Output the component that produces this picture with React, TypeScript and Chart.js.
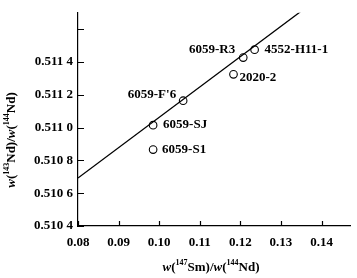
import React, { useEffect, useRef } from 'react';
import { Chart, registerables } from 'chart.js';

Chart.register(...registerables);

// ---- data ----
const sampleNames = ['4552-H11-1', '6059-R3', '2020-2', "6059-F'6", '6059-SJ', '6059-S1'];
const smNdRatio = [0.1235, 0.1207, 0.1183, 0.1059, 0.0985, 0.0985];
const ndNdRatio = [0.511475, 0.511427, 0.511325, 0.511164, 0.511015, 0.510866];
const isochronX = [0.08, 0.1348];
const isochronY = [0.510693, 0.511707];
const xTickValues = [0.08, 0.09, 0.1, 0.11, 0.12, 0.13, 0.14];
const xTickLabels = ['0.08', '0.09', '0.10', '0.11', '0.12', '0.13', '0.14'];
const yTickValues = [0.5104, 0.5106, 0.5108, 0.511, 0.5112, 0.5114, 0.5116];
const yTickLabels = ['0.510 4', '0.510 6', '0.510 8', '0.511 0', '0.511 2', '0.511 4', ''];

const FONT = "'Liberation Serif', 'Times New Roman', serif";

// label placement per sample name: [dx, dy, align]
const labelPlacement: Record<string, [number, number, CanvasTextAlign]> = {
  '4552-H11-1': [10, 0, 'left'],
  '6059-R3': [-8, -8, 'right'],
  '2020-2': [6, 3, 'left'],
  "6059-F'6": [-7, -6, 'right'],
  '6059-SJ': [10, 0, 'left'],
  '6059-S1': [9, 0, 'left'],
};

type Seg = { t: string; it?: boolean; sup?: boolean };
const xTitle: Seg[] = [
  { t: 'w', it: true }, { t: '(' }, { t: '147', sup: true }, { t: 'Sm)/' },
  { t: 'w', it: true }, { t: '(' }, { t: '144', sup: true }, { t: 'Nd)' },
];
const yTitle: Seg[] = [
  { t: 'w', it: true }, { t: '(' }, { t: '143', sup: true }, { t: 'Nd)/' },
  { t: 'w', it: true }, { t: '(' }, { t: '144', sup: true }, { t: 'Nd)' },
];

function segFont(s: Seg) {
  if (s.sup) return `bold 8px ${FONT}`;
  return `${s.it ? 'italic ' : ''}bold 13px ${FONT}`;
}

function drawRich(ctx: CanvasRenderingContext2D, segs: Seg[], cx: number, cy: number, rot: number) {
  ctx.save();
  ctx.translate(cx, cy);
  ctx.rotate(rot);
  let total = 0;
  const widths = segs.map((s) => {
    ctx.font = segFont(s);
    const w = ctx.measureText(s.t).width;
    total += w;
    return w;
  });
  let x = -total / 2;
  ctx.fillStyle = '#000';
  ctx.textBaseline = 'middle';
  ctx.textAlign = 'left';
  segs.forEach((s, i) => {
    ctx.font = segFont(s);
    ctx.fillText(s.t, x, s.sup ? -5 : 0);
    x += widths[i];
  });
  ctx.restore();
}

const decorPlugin = {
  id: 'decor',
  afterDraw(chart: any) {
    const ctx: CanvasRenderingContext2D = chart.ctx;
    const xs = chart.scales.x;
    const ys = chart.scales.y;
    const area = chart.chartArea;
    ctx.save();
    ctx.strokeStyle = '#000';
    ctx.lineWidth = 1.2;
    ctx.beginPath();
    xTickValues.forEach((v) => {
      const px = Math.round(xs.getPixelForValue(v)) + 0.5;
      ctx.moveTo(px, area.bottom);
      ctx.lineTo(px, area.bottom - 5);
    });
    yTickValues.forEach((v) => {
      const py = Math.round(ys.getPixelForValue(v)) + 0.5;
      ctx.moveTo(area.left, py);
      ctx.lineTo(area.left + 6, py);
    });
    ctx.stroke();

    // point labels
    const meta = chart.getDatasetMeta(1);
    ctx.font = `bold 13px ${FONT}`;
    ctx.fillStyle = '#000';
    ctx.textBaseline = 'middle';
    sampleNames.forEach((name, i) => {
      const el = meta.data[i];
      const [dx, dy, align] = labelPlacement[name];
      ctx.textAlign = align;
      ctx.fillText(name, el.x + dx, el.y + dy);
    });
    ctx.restore();

    drawRich(ctx, xTitle, (area.left + area.right) / 2 - 3, 268, 0);
    drawRich(ctx, yTitle, 12, 140, -Math.PI / 2);
  },
};

export default function App() {
  const ref = useRef<HTMLCanvasElement>(null);
  useEffect(() => {
    if (!ref.current) return;
    const chart = new Chart(ref.current, {
      type: 'scatter',
      data: {
        datasets: [
          {
            type: 'line',
            data: isochronX.map((x, i) => ({ x, y: isochronY[i] })),
            borderColor: '#000',
            borderWidth: 1.2,
            pointRadius: 0,
            fill: false,
          } as any,
          {
            type: 'scatter',
            data: smNdRatio.map((x, i) => ({ x, y: ndNdRatio[i] })),
            pointStyle: 'circle',
            pointRadius: 3.8,
            backgroundColor: 'rgba(0,0,0,0)',
            borderColor: '#000',
            borderWidth: 1.1,
          },
        ],
      },
      options: {
        responsive: false,
        animation: false,
        layout: { padding: { left: 0, right: 7, top: 8, bottom: 0 } },
        plugins: { legend: { display: false }, tooltip: { enabled: false } },
        scales: {
          x: {
            type: 'linear',
            min: 0.08,
            max: 0.147,
            afterFit: (s: any) => { s.height = 52; },
            afterBuildTicks: (s: any) => { s.ticks = xTickValues.map((v) => ({ value: v })); },
            grid: { drawOnChartArea: false, drawTicks: false },
            border: { display: true, color: '#000', width: 1.2 },
            ticks: {
              padding: 9,
              color: '#000',
              font: { family: FONT, size: 13, weight: 'bold' },
              callback: (_v: any, i: number) => xTickLabels[i],
              maxRotation: 0,
              autoSkip: false,
            },
          },
          y: {
            type: 'linear',
            min: 0.5104,
            max: 0.5117,
            afterFit: (s: any) => { s.width = 78; },
            afterBuildTicks: (s: any) => { s.ticks = yTickValues.map((v) => ({ value: v })); },
            grid: { drawOnChartArea: false, drawTicks: false },
            border: { display: true, color: '#000', width: 1.2 },
            ticks: {
              padding: 5,
              color: '#000',
              font: { family: FONT, size: 13, weight: 'bold' },
              callback: (_v: any, i: number) => yTickLabels[i],
              autoSkip: false,
            },
          },
        },
      },
      plugins: [decorPlugin],
    });
    return () => chart.destroy();
  }, []);
  return (
    <div style={{ position: 'fixed', left: 0, top: 0, width: 357, height: 278, background: '#fff' }}>
      <canvas ref={ref} width={357} height={278} />
    </div>
  );
}
